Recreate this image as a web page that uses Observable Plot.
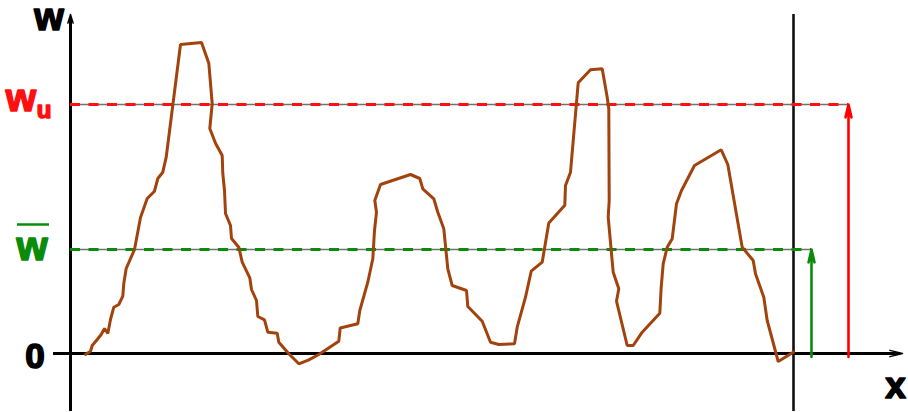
<!DOCTYPE html>
<html>
<head>
<meta charset="utf-8">
<script src="https://cdn.jsdelivr.net/npm/d3@7"></script>
<script src="https://cdn.jsdelivr.net/npm/@observablehq/plot@0.6"></script>
<style>
  html, body { margin: 0; padding: 0; background: #fff; }
  #chart svg { display: block; }
</style>
</head>
<body>
<div id="chart"></div>
<script>
// Signal w(x): x positions and values (arbitrary units; 0 = baseline)
const xs = [15, 20, 21.7, 26.7, 30.7, 34, 37.3, 40, 43.3, 48.3, 52.3, 53.3, 55.7, 64, 70, 76.7, 84, 87.3, 92.3, 95.7,
  110, 131, 138.3, 141.7, 139.3, 145, 151.7, 152.3, 154, 155, 160, 161, 168.3, 171.7, 179.3, 181, 186, 187.3, 194, 197.3,
  206.7, 208.3, 218.3, 228.3, 238.3, 248.3, 268.3, 269.7, 287.3, 289.3, 297.3, 302.3, 304, 306, 304.3, 310, 340, 349.3,
  352.3, 363.3, 367.3, 373.3, 377.3, 381.7, 396, 397.3, 411.7, 420, 428.3, 444, 446.7, 455, 460.7, 471.7, 478.3, 494.3,
  495, 500, 507.7, 520, 531.7, 536.7, 538.3, 538.7, 537.7, 542.7, 548.3, 546, 556.7, 562.7, 571.7, 589.3, 590.7, 592.7,
  596.7, 601.7, 606, 611, 624, 650.7, 657.3, 671.7, 682.7, 685, 693.3, 696.7, 707.7, 722.7];
const ws = [-1, 2.3, 8, 14, 19, 25, 20, 34, 46.3, 49, 57.3, 70, 85, 104, 136, 155, 162.3, 175, 181.3, 196.3,
  309, 311, 290.3, 250, 225, 210.3, 198, 180, 163, 140, 128, 115, 106.3, 91.3, 75.7, 64, 53, 37, 33.7, 21.3,
  20.3, 11.3, -0.3, -10.3, -6.3, -1, 12.3, 25.5, 29.7, 43, 71.3, 94.7, 123, 141.3, 153, 169, 179, 175,
  164.7, 154.7, 141.3, 124.7, 84.7, 68, 63, 47, 32.3, 11.3, 9, 9.7, 26.3, 56.3, 82.3, 91.3, 130.5, 148.3,
  168, 181.3, 270.7, 283.7, 284.7, 256.3, 244.7, 153, 136.3, 81.3, 64.7, 52.3, 8, 8, 21.3, 40.3, 66.3, 89.7,
  106.3, 114.7, 149.7, 163, 188, 203.7, 189, 106.3, 93, 79.7, 56.3, 33, -8, 1.3];

// Reference levels
const wu = 249;      // upper level w_u
const wbar = 104;    // mean level w-bar
const xLimit = 723;  // vertical boundary line
const arrowXs = [741, 778];        // green (wbar) and red (wu) arrows
const arrowTops = [wbar, wu];
const arrowColors = ["#0a8c0a", "#ff0000"];

const signal = xs.map((x, i) => ({x, w: ws[i]}));
const levels = [
  {level: wu, x2: arrowXs[1], color: "#ff1010"},
  {level: wbar, x2: arrowXs[0], color: "#0a8c0a"}
];
const arrows = arrowXs.map((x, i) => ({x, top: arrowTops[i], color: arrowColors[i]}));

const font = "Liberation Sans, Arial, Helvetica, sans-serif";
const lbl = (color, size) => ({text: d => d, fontSize: size, fontWeight: "bold", fill: color, stroke: color, strokeWidth: 1.6,
  textAnchor: "middle", lineAnchor: "bottom"});

const chart = Plot.plot({
  width: 908,
  height: 412,
  margin: 0,
  style: {background: "#fff", overflow: "visible", fontFamily: font},
  x: {domain: [-70, 838], axis: null},
  y: {domain: [-59, 353], axis: null},
  marks: [
    // axes
    Plot.ruleX([0], {y1: -58, y2: 335, stroke: "black", strokeWidth: 3}),
    Plot.arrow([0], {x1: 0, x2: 0, y1: 300, y2: 339, stroke: "black", strokeWidth: 1.5, headLength: 9, headAngle: 34}),
    Plot.ruleY([0], {x1: -17, x2: 828, stroke: "black", strokeWidth: 3}),
    Plot.arrow([0], {x1: 780, x2: 832, y1: 0, y2: 0, stroke: "black", strokeWidth: 1.5, headLength: 13, headAngle: 28}),
    Plot.ruleX([xLimit], {y1: -58, y2: 339, stroke: "#111", strokeWidth: 2.6}),
    // level lines: thin gray underline + colored dashes
    Plot.ruleY(levels, {y: "level", x1: 0, x2: "x2", stroke: "#707070", strokeWidth: 1.5}),
    Plot.ruleY(levels, {y: "level", x1: 0, x2: "x2", stroke: "color", strokeWidth: 3, strokeDasharray: "10,8.5"}),
    // signal
    Plot.line(signal, {x: "x", y: "w", stroke: "#a2420c", strokeWidth: 3, strokeLinejoin: "miter"}),
    // level arrows
    Plot.arrow(arrows, {x1: "x", x2: "x", y1: -3.5, y2: "top", stroke: "color", strokeWidth: 2.6, headLength: 7.6, headAngle: 26}),
    // labels
    Plot.text(["w"], {x: -21.5, y: 324, ...lbl("black", 38)}),
    Plot.text(["w"], {x: -49.5, y: 242.5, ...lbl("#ff1010", 39)}),
    Plot.text(["u"], {x: -26.5, y: 235.5, ...lbl("#ff1010", 24)}),
    Plot.ruleY([129], {x1: -53, x2: -21, stroke: "#0a8c0a", strokeWidth: 2.5}),
    Plot.text(["w"], {x: -38.5, y: 93.5, ...lbl("#0a8c0a", 40)}),
    Plot.text(["0"], {x: -35.5, y: -14.5, ...lbl("black", 35)}),
    Plot.text(["x"], {x: 825, y: -44.5, ...lbl("black", 37)})
  ]
});
document.getElementById("chart").appendChild(chart);
</script>
</body>
</html>
